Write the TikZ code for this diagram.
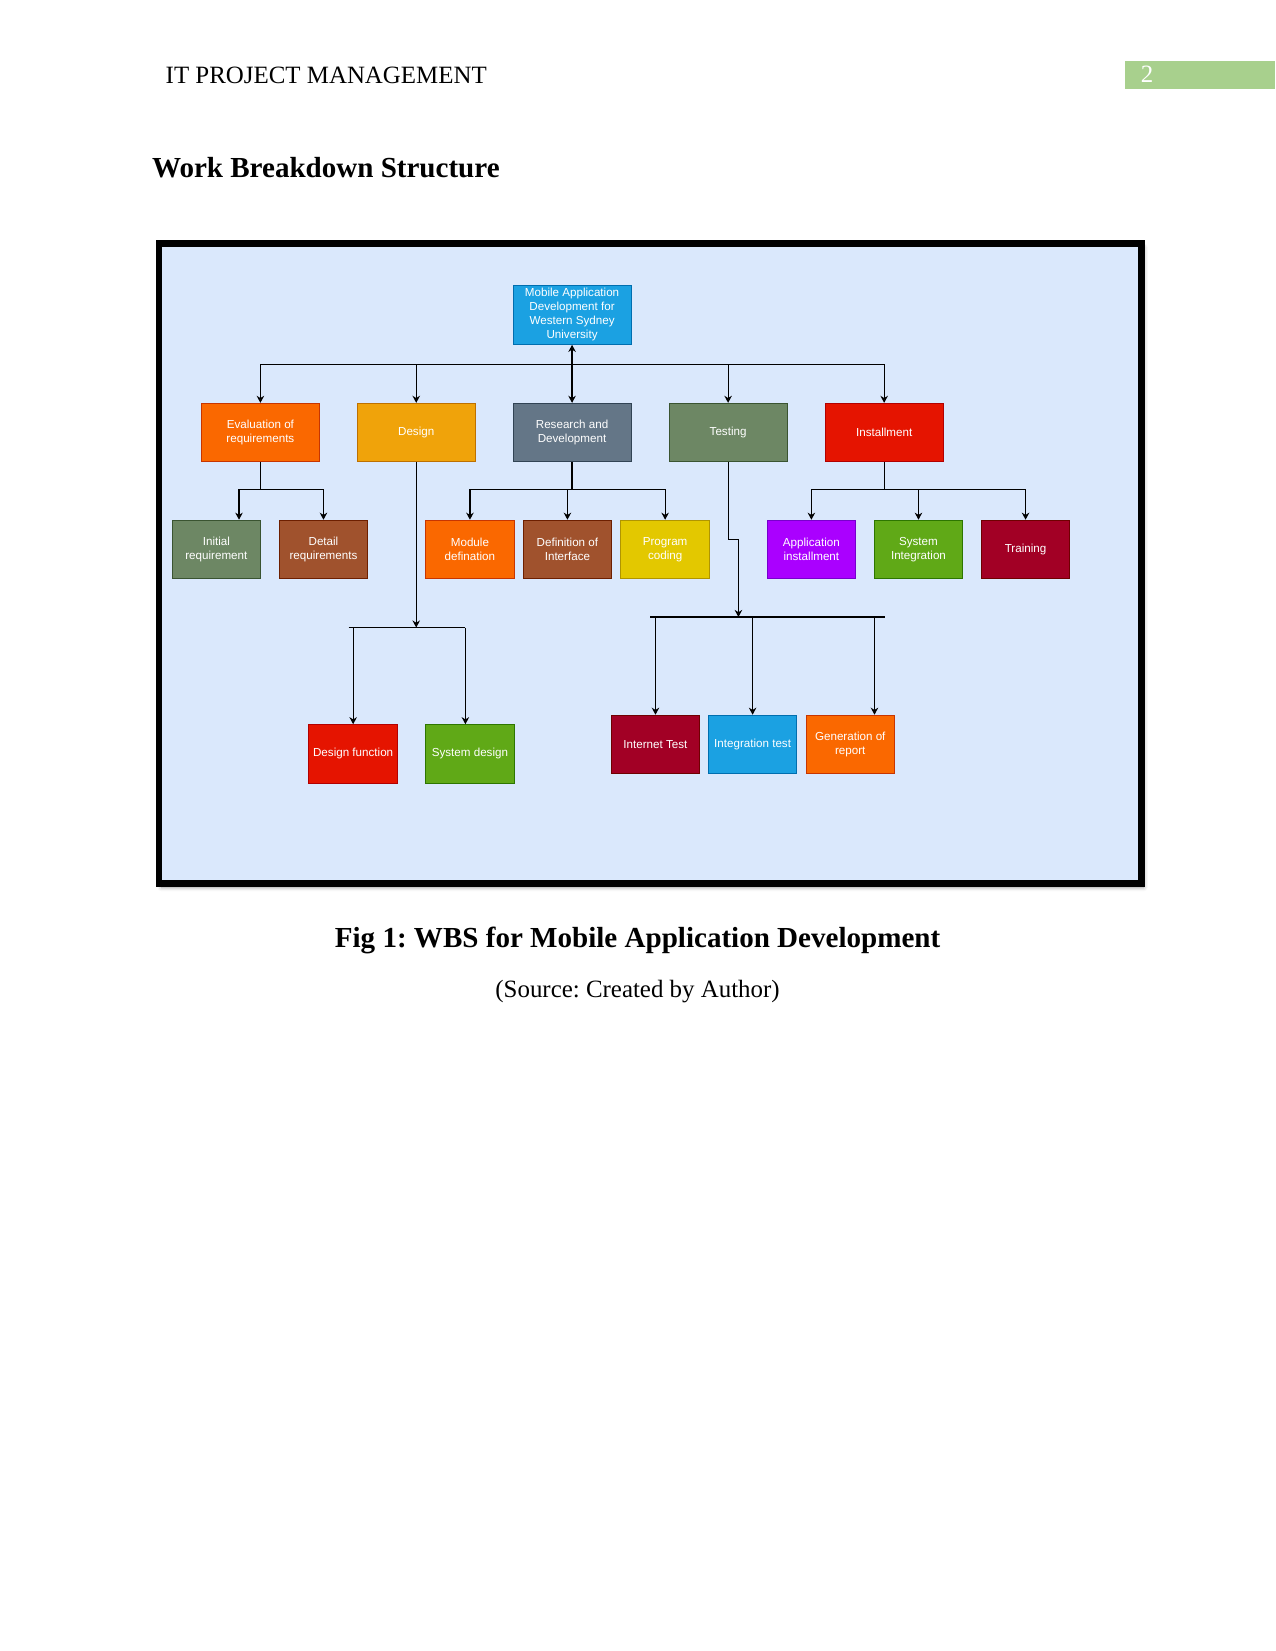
\documentclass[tikz,border=0pt]{standalone}
\usepackage{fontspec}
\setmainfont{Liberation Serif}
\newfontfamily\diagfont{Liberation Sans}
\usetikzlibrary{arrows.meta,calc,shadows.blur}
\definecolor{frameBlue}{HTML}{DAE8FC}
\definecolor{pgGreen}{HTML}{A8D08D}
\definecolor{cBlue}{HTML}{1BA1E2}\definecolor{cBlueD}{HTML}{006EAF}
\definecolor{cOrange}{HTML}{FA6800}\definecolor{cOrangeD}{HTML}{C73500}
\definecolor{cAmber}{HTML}{F0A30A}\definecolor{cAmberD}{HTML}{BD7000}
\definecolor{cSteel}{HTML}{647687}\definecolor{cSteelD}{HTML}{314354}
\definecolor{cOlive}{HTML}{6D8764}\definecolor{cOliveD}{HTML}{3A5431}
\definecolor{cRed}{HTML}{E51400}\definecolor{cRedD}{HTML}{B20000}
\definecolor{cSienna}{HTML}{A0522D}\definecolor{cSiennaD}{HTML}{6D1F00}
\definecolor{cYellow}{HTML}{E3C800}\definecolor{cYellowD}{HTML}{B09500}
\definecolor{cViolet}{HTML}{AA00FF}\definecolor{cVioletD}{HTML}{7700CC}
\definecolor{cGreen}{HTML}{60A917}\definecolor{cGreenD}{HTML}{2D7600}
\definecolor{cCrimson}{HTML}{A20025}\definecolor{cCrimsonD}{HTML}{6F0000}
\frenchspacing
\begin{document}
\begin{tikzpicture}[x=0.5054bp,y=-0.5054bp,
  wbs/.style={draw, line width=0.5bp, inner sep=0pt, align=center, text=white,
    font=\diagfont\fontsize{5.6}{6.7}\selectfont},
  bigbox/.style={wbs, minimum width=56.6bp, minimum height=28bp},
  smallbox/.style={wbs, minimum width=42.45bp, minimum height=28bp},
  ln/.style={line width=0.55bp},
  arr/.style={ln, -{Stealth[length=3.4bp,width=3.6bp]}},
  dblarr/.style={ln, {Stealth[length=3.4bp,width=3.6bp]}-{Stealth[length=3.4bp,width=3.6bp]}},
  blue/.style={fill=cBlue, draw=cBlueD},
  orange/.style={fill=cOrange, draw=cOrangeD},
  amber/.style={fill=cAmber, draw=cAmberD},
  steel/.style={fill=cSteel, draw=cSteelD},
  olive/.style={fill=cOlive, draw=cOliveD},
  redc/.style={fill=cRed, draw=cRedD},
  sienna/.style={fill=cSienna, draw=cSiennaD},
  yellowc/.style={fill=cYellow, draw=cYellowD},
  violet/.style={fill=cViolet, draw=cVioletD},
  greenc/.style={fill=cGreen, draw=cGreenD},
  crimson/.style={fill=cCrimson, draw=cCrimsonD},
  txt/.style={inner sep=0pt, text=black}
]
\useasboundingbox (0,0) rectangle (1211,1568);

% page header
\fill[pgGreen] (1068,58) rectangle (1211,84.5);
\node[txt, anchor=base west, font=\fontsize{12}{14}\selectfont] (hdr) at (157,79) {IT PROJECT MANAGEMENT};
\node[txt, anchor=base west, text=white, font=\fontsize{12}{14}\selectfont] (pgnum) at (1083,78.5) {2};
\node[txt, anchor=base west, font=\bfseries\fontsize{14}{16}\selectfont] (title) at (144,169) {Work Breakdown Structure};

% frame
\draw[line width=3.3bp, fill=frameBlue,
  blur shadow={shadow xshift=1.2bp, shadow yshift=-1.8bp, shadow blur radius=2bp, shadow opacity=45}]
  (151,231.5) rectangle (1083.8,839);

% level 0
\node[bigbox, blue, minimum height=28.3bp] (Root) at (543.3,299) {Mobile Application\\Development for\\Western Sydney\\University};

% level 1
\node[bigbox, orange] (Eval) at (247.3,410.8) {Evaluation of\\requirements};
\node[bigbox, amber] (Design) at (395.3,410.8) {Design};
\node[bigbox, steel] (RD) at (543.3,410.8) {Research and\\Development};
\node[bigbox, olive] (Test) at (691.5,410.8) {Testing};
\node[bigbox, redc] (Inst) at (839.7,410.8) {Installment};

% level 2
\node[smallbox, olive] (Init) at (205.5,521.8) {Initial\\requirement};
\node[smallbox, sienna] (Detail) at (307.2,521.8) {Detail\\requirements};
\node[smallbox, orange] (Mod) at (446.3,521.8) {Module\\defination};
\node[smallbox, sienna] (Def) at (538.9,521.8) {Definition of\\Interface};
\node[smallbox, yellowc] (Prog) at (631.7,521.8) {Program\\coding};
\node[smallbox, violet] (App) at (770.6,521.8) {Application\\installment};
\node[smallbox, greenc] (SysInt) at (872.3,521.8) {System\\Integration};
\node[smallbox, crimson] (Train) at (974,521.8) {Training};

% design children
\node[smallbox, redc] (DF) at (335.4,716) {Design function};
\node[smallbox, greenc] (SD) at (446.3,716) {System design};

% testing children
\node[smallbox, crimson] (Inet) at (622.5,707) {Internet Test};
\node[smallbox, blue] (Integ) at (714.75,707) {Integration test};
\node[smallbox, orange] (Gen) at (807.5,707) {Generation of\\report};

% top connectors
\coordinate (topbus) at (543.3,346);
\draw[dblarr] (Root.south) -- (RD.north);
\draw[arr] (topbus) -| (Eval.north);
\draw[arr] (topbus) -| (Design.north);
\draw[arr] (topbus) -| (Test.north);
\draw[arr] (topbus) -| (Inst.north);

% evaluation children
\coordinate (ebus) at (247.3,465);
\coordinate (inittop) at ($(Init.north)+(21.5,0)$);
\draw[ln] (Eval.south) -- (ebus);
\draw[arr] (ebus) -| (inittop);
\draw[arr] (ebus) -| (Detail.north);

% R&D children
\coordinate (rbus) at (543.3,465);
\draw[ln] (RD.south) -- (rbus);
\draw[arr] (rbus) -| (Mod.north);
\draw[arr] (rbus) -| (Def.north);
\draw[arr] (rbus) -| (Prog.north);

% installment children
\coordinate (ibus) at (839.7,465);
\draw[ln] (Inst.south) -- (ibus);
\draw[arr] (ibus) -| (App.north);
\draw[arr] (ibus) -| (SysInt.north);
\draw[arr] (ibus) -| (Train.north);

% design children connectors
\coordinate (dbus) at (395.3,596);
\coordinate (dbusL) at (331,596);
\coordinate (dbusR) at (442,596);
\coordinate (sdtop) at ($(SD.north)+(-4.3,0)$);
\draw[arr] (Design.south) -- (dbus);
\draw[ln] (dbusL) -- (dbusR);
\draw[arr] (DF.north |- dbus) -- (DF.north);
\draw[arr] (sdtop |- dbus) -- (sdtop);

% testing children connectors
\coordinate (tbus) at (701.3,586);
\coordinate (tbusL) at (617.4,586);
\coordinate (tbusR) at (840.6,586);
\coordinate (gentop) at ($(Gen.north)+(23,0)$);
\draw[arr] (Test.south) -- ($(Test.south)+(0,73.5)$) -| (tbus);
\draw[ln] (tbusL) -- (tbusR);
\draw[arr] (Inet.north |- tbus) -- (Inet.north);
\draw[arr] (Integ.north |- tbus) -- (Integ.north);
\draw[arr] (gentop |- tbus) -- (gentop);

% caption
\node[txt, anchor=base, font=\bfseries\fontsize{14}{16}\selectfont] (cap) at (605.5,900) {Fig 1: WBS for Mobile Application Development};
\node[txt, anchor=base, font=\fontsize{12}{14}\selectfont] (src) at (605.5,947) {(Source: Created by Author)};
\end{tikzpicture}
\end{document}
